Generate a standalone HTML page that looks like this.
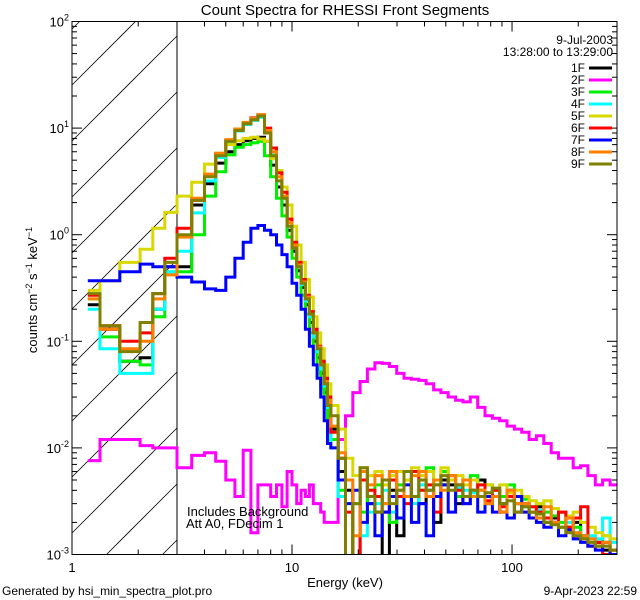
<!DOCTYPE html>
<html><head><meta charset="utf-8">
<style>
html,body{margin:0;padding:0;background:#fff;width:640px;height:600px;overflow:hidden;}
svg{display:block;font-family:"Liberation Sans",sans-serif;}
</style></head>
<body>
<svg id="chart" width="640" height="600" viewBox="0 0 640 600" xmlns="http://www.w3.org/2000/svg" overflow="hidden">
<rect x="0" y="0" width="640" height="600" fill="#fff"/>
<text x="345" y="15" font-size="15" text-anchor="middle">Count Spectra for RHESSI Front Segments</text>
<defs><clipPath id="plotclip"><rect x="72" y="21.5" width="545" height="533"/></clipPath></defs>
<g id="hatch"></g>
<line x1="177" y1="21.5" x2="177" y2="554.5" stroke="#000" stroke-width="1"/>
<g id="series" clip-path="url(#plotclip)"></g>
<rect x="72" y="21.5" width="545" height="533" fill="none" stroke="#000" stroke-width="1"/>
<g id="axes"></g>
<text transform="translate(37,290) rotate(-90)" font-size="13" text-anchor="middle">counts cm<tspan dy="-5" font-size="9">−2</tspan><tspan dy="5"> s</tspan><tspan dy="-5" font-size="9">−1</tspan><tspan dy="5"> keV</tspan><tspan dy="-5" font-size="9">−1</tspan></text>
<text x="345" y="587" font-size="13" text-anchor="middle">Energy (keV)</text>
<text x="187" y="516" font-size="13">Includes Background</text>
<text x="186" y="528" font-size="13">Att A0, FDecim 1</text>
<text x="2" y="595" font-size="12">Generated by hsi_min_spectra_plot.pro</text>
<text x="637" y="595" font-size="12" text-anchor="end">9-Apr-2023 22:59</text>
<text x="613" y="44" font-size="12" text-anchor="end">9-Jul-2003</text>
<text x="613" y="56" font-size="12" text-anchor="end">13:28:00 to 13:29:00</text>
<g id="legend"></g>
</svg>
<script>
const edges=[1.18,1.34,1.65,2.04,2.33,2.64,3.0,
3.5,4,4.5,5,5.5,6,6.5,7,7.5,8,8.5,9,9.5,10,10.5,11,11.5,12,12.5,13,13.5,14,14.5,15,
16.2,17.5,18.9,20.4,22,23.8,25.7,27.7,29.9,32.3,34.9,37.7,40.7,44,47.5,51.3,55.4,59.8,64.6,69.8,75.4,81.4,87.9,94.9,102.5,110.7,119.6,129.1,139.5,150.6,162.7,175.7,189.7,204.9,221.3,239,258,279,300];
const names=["1F","2F","3F","4F","5F","6F","7F","8F","9F"];
const colors=["#000000","#ff00ff","#00ee00","#00ffff","#d8d800","#ff0000","#0000ff","#ff8000","#808000"];
const s1F=[0.22,0.13,0.065,0.07,0.2,0.5,
0.5,1.9,3.0,4.7,6,7,7.6,8,8.2,7.5,4.5,2.8,1.9,1.1,0.7,0.46,0.32,0.22,0.15,0.1,0.07,0.05,0.033,0.02,
0.015,0.006,0.004,0.0005,0.006,0.003,0.0025,0.0005,0.004,0.0015,0.005,0.0035,0.003,0.004,0.002,0.005,0.0045,0.003,0.0035,0.004,0.005,0.003,0.0035,0.0025,0.004,0.003,0.003,0.0025,0.0028,0.002,0.0022,0.0025,0.0018,0.002,0.0015,0.0012,0.0013,0.0011,0.001];
const s2F=[0.0076,0.012,0.012,0.0105,0.01,0.01,
0.0065,0.0085,0.009,0.0075,0.005,0.0035,0.0095,0.0016,0.0045,0.0045,0.0035,0.0045,0.0028,0.006,0.0045,0.003,0.004,0.0035,0.0045,0.003,0.003,0.0025,0.002,0.002,
0.002,0.012,0.02,0.033,0.042,0.055,0.063,0.062,0.058,0.05,0.045,0.044,0.043,0.04,0.035,0.033,0.03,0.028,0.027,0.03,0.024,0.02,0.019,0.018,0.016,0.015,0.014,0.012,0.013,0.011,0.009,0.008,0.008,0.0065,0.0068,0.0055,0.0045,0.005,0.0045];
const s3F=[0.25,0.11,0.065,0.06,0.17,0.45,
0.45,1.0,2.3,3.9,5.6,6.6,7,7.3,7.5,5.5,3.5,2.2,1.5,0.95,0.6,0.4,0.27,0.18,0.12,0.08,0.055,0.037,0.024,0.015,
0.012,0.004,0.0005,0.003,0.0025,0.004,0.0045,0.003,0.002,0.0045,0.005,0.0035,0.004,0.0065,0.0045,0.006,0.005,0.0035,0.005,0.0055,0.004,0.0045,0.004,0.0035,0.0045,0.003,0.0033,0.0028,0.003,0.0025,0.0023,0.002,0.0022,0.0018,0.0015,0.0014,0.0012,0.0015,0.0011];
const s4F=[0.2,0.085,0.05,0.05,0.2,0.45,
0.7,1.6,3.2,5.3,7.3,9.4,10.8,11.8,12.6,9,5.6,3.2,2.2,1.2,0.75,0.5,0.34,0.24,0.17,0.11,0.08,0.055,0.038,0.024,
0.01,0.0035,0.005,0.003,0.0015,0.0025,0.003,0.004,0.0025,0.004,0.0035,0.003,0.0045,0.004,0.0035,0.0045,0.005,0.0042,0.004,0.0038,0.0045,0.0035,0.004,0.003,0.0035,0.003,0.0028,0.0025,0.0026,0.0022,0.002,0.0018,0.002,0.0016,0.0015,0.0015,0.0014,0.0022,0.0013];
const s5F=[0.3,0.37,0.55,0.73,1.15,1.62,
2.3,3.1,4.6,5.8,7,7.6,8,8.2,7.9,7.5,5.2,4.0,2.8,1.9,1.2,0.8,0.55,0.38,0.26,0.17,0.12,0.085,0.06,0.04,
0.025,0.015,0.008,0.0055,0.0065,0.0055,0.006,0.0045,0.0055,0.006,0.005,0.0065,0.0055,0.006,0.0045,0.0065,0.005,0.0055,0.0045,0.005,0.004,0.0045,0.004,0.0045,0.0038,0.004,0.0035,0.0032,0.003,0.0032,0.0027,0.0025,0.0023,0.0025,0.002,0.0018,0.0016,0.0015,0.0014];
const s6F=[0.27,0.14,0.1,0.12,0.28,0.6,
1.15,2.1,3.6,5.7,7.7,9.7,11.2,12.5,13.3,10,6.5,3.8,2.5,1.4,0.85,0.55,0.38,0.27,0.19,0.13,0.09,0.065,0.045,0.03,
0.014,0.008,0.0025,0.0005,0.005,0.004,0.0035,0.0025,0.005,0.0035,0.003,0.006,0.004,0.0045,0.0025,0.0045,0.0055,0.004,0.003,0.0035,0.0045,0.0032,0.004,0.0028,0.0035,0.0025,0.003,0.0028,0.0025,0.0022,0.002,0.0025,0.0018,0.0022,0.0028,0.0012,0.0013,0.001,0.0011];
const s7F=[0.37,0.37,0.45,0.53,0.5,0.5,
0.4,0.36,0.31,0.3,0.4,0.6,0.85,1.15,1.22,1.1,1.0,0.8,0.65,0.5,0.35,0.27,0.2,0.13,0.09,0.06,0.045,0.03,0.018,0.011,
0.01,0.005,0.003,0.004,0.002,0.003,0.0015,0.0025,0.0035,0.0022,0.0045,0.002,0.003,0.0015,0.0035,0.0045,0.0025,0.0045,0.003,0.0035,0.0025,0.0035,0.0025,0.003,0.0022,0.0035,0.0025,0.0022,0.002,0.0018,0.002,0.0015,0.0017,0.0014,0.0013,0.0012,0.0011,0.0013,0.001];
const s8F=[0.25,0.13,0.085,0.1,0.25,0.42,
0.95,2.2,3.7,5.8,7.8,9.8,11.3,12.4,13.4,9.5,6,3.5,2.3,1.3,0.8,0.52,0.36,0.26,0.18,0.12,0.088,0.06,0.042,0.028,
0.016,0.009,0.005,0.0015,0.006,0.0045,0.0055,0.003,0.006,0.004,0.0035,0.0055,0.006,0.0035,0.005,0.004,0.0055,0.0045,0.005,0.0035,0.004,0.003,0.0035,0.0025,0.004,0.003,0.003,0.0025,0.0022,0.0028,0.002,0.0018,0.0022,0.0016,0.0015,0.0014,0.0012,0.0013,0.0011];
const s9F=[0.28,0.14,0.08,0.15,0.28,0.55,
1.0,2.1,3.5,5.5,7.5,9.5,11,12,13,9,5.5,3.2,2.2,1.2,0.75,0.5,0.35,0.25,0.18,0.12,0.085,0.06,0.04,0.025,
0.02,0.008,0.0005,0.003,0.0065,0.0035,0.0025,0.005,0.003,0.004,0.006,0.0035,0.005,0.004,0.0045,0.0055,0.004,0.0045,0.0035,0.004,0.0035,0.0038,0.0042,0.003,0.0032,0.0025,0.0028,0.0025,0.0024,0.002,0.0019,0.0018,0.0016,0.0015,0.0014,0.0013,0.0012,0.0012,0.0011];
const seriesValues=[s1F,s2F,s3F,s4F,s5F,s6F,s7F,s8F,s9F];
const yTickExps=[-3,-2,-1,0,1,2];
const xTickLabels=[1,10,100];

const NS="http://www.w3.org/2000/svg";
const X0=72,X1=617,Y0=554.5,Y1=21.5;
const xmin=1,xmax=300,ymin=1e-3,ymax=100;
function xs(e){return X0+(Math.log10(e)-Math.log10(xmin))/(Math.log10(xmax)-Math.log10(xmin))*(X1-X0);}
function ys(v){const lv=Math.log10(Math.max(v,ymin*0.7));return Y0-(lv-Math.log10(ymin))/(Math.log10(ymax)-Math.log10(ymin))*(Y0-Y1);}
function mk(tag,attrs,parent){const el=document.createElementNS(NS,tag);for(const k in attrs)el.setAttribute(k,attrs[k]);parent.appendChild(el);return el;}

// hatch lines clipped manually to the box x 72..177, y 21.5..554.5 (slope 45deg, y decreasing with x)
const hatch=document.getElementById('hatch');
const HX0=72,HX1=177;
for(let k=-3;k<12;k++){
  const c=85+56*k; // y at x=72; line y = c - (x-72)
  let xa=HX0,xb=HX1;
  // y within [Y1,Y0]: c-(x-72)<=Y0 -> x>=72+c-Y0 ; c-(x-72)>=Y1 -> x<=72+c-Y1
  xa=Math.max(xa,72+c-Y0); xb=Math.min(xb,72+c-Y1);
  if(xb<=xa) continue;
  const ln=mk('line',{x1:xa,y1:c-(xa-72),x2:xb,y2:c-(xb-72),stroke:'#000','stroke-width':0.8},hatch);
  
  
}

const sg=document.getElementById('series');
seriesValues.forEach((vals,i)=>{
  let d='';
  for(let b=0;b<vals.length;b++){
    const xa=xs(edges[b]),xb=xs(edges[b+1]),y=ys(vals[b]);
    d+=(b===0?'M':'L')+xa.toFixed(1)+','+y.toFixed(1)+'L'+xb.toFixed(1)+','+y.toFixed(1);
  }
  const p=mk('path',{d:d,fill:'none',stroke:colors[i],'stroke-width':3,'stroke-linejoin':'miter'},sg);
  
  
});

const ax=document.getElementById('axes');
for(let e=-3;e<2;e++){for(let m=1;m<10;m++){
  const v=m*Math.pow(10,e);const y=ys(v);const L=(m===1)?10:5;
  mk('line',{x1:X0,y1:y,x2:X0+L,y2:y,stroke:'#000','stroke-width':1},ax);
  mk('line',{x1:X1,y1:y,x2:X1-L,y2:y,stroke:'#000','stroke-width':1},ax);
}}
yTickExps.forEach(e=>{
  const y=ys(Math.pow(10,e));
  const t=mk('text',{x:X0-3,y:y+5,'font-size':13,'text-anchor':'end'},ax);
  t.innerHTML='10<tspan dy="-6" font-size="9">'+e+'</tspan>';
  
  
});
for(let e=0;e<3;e++){for(let m=1;m<10;m++){
  const v=m*Math.pow(10,e);if(v>xmax)break;const x=xs(v);const L=(m===1)?10:5;
  mk('line',{x1:x,y1:Y0,x2:x,y2:Y0-L,stroke:'#000','stroke-width':1},ax);
  mk('line',{x1:x,y1:Y1,x2:x,y2:Y1+L,stroke:'#000','stroke-width':1},ax);
}}
xTickLabels.forEach(v=>{
  const t=mk('text',{x:xs(v),y:572,'font-size':13,'text-anchor':'middle'},ax);
  t.textContent=String(v);
  
  
});

const lg=document.getElementById('legend');
names.forEach((n,i)=>{
  const y=68+12*i;
  const t=mk('text',{x:585,y:y+4,'font-size':12,'text-anchor':'end'},lg);
  t.textContent=n;
  
  
  const l=mk('line',{x1:589,y1:y,x2:612,y2:y,stroke:colors[i],'stroke-width':3},lg);
  
  
});
</script>
</body></html>
